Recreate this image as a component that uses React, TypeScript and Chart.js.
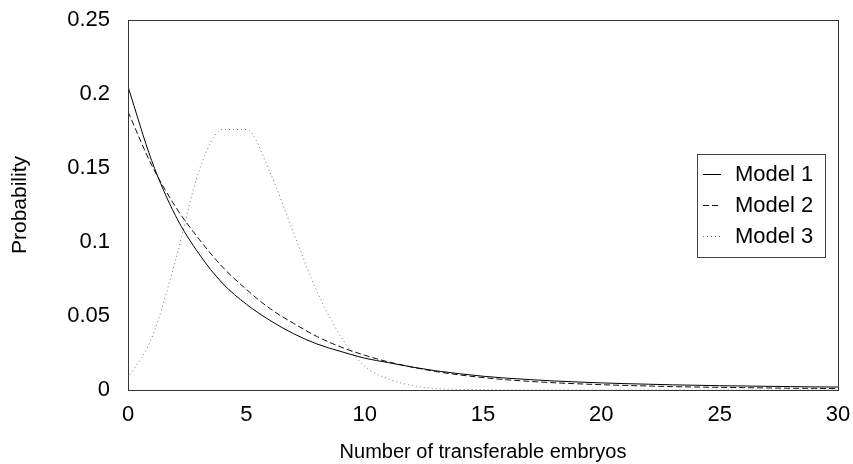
import React, { useEffect, useRef } from "react";
import { Chart, registerables } from "chart.js";

Chart.register(...registerables);

const xValues = [0, 1, 2, 3, 4, 5, 6, 7, 8, 9, 10, 11, 12, 13, 14, 15, 16, 17, 18, 19, 20, 21, 22, 23, 24, 25, 26, 27, 28, 29, 30];
const model1 = [0.205, 0.155, 0.118, 0.092, 0.072, 0.058, 0.047, 0.038, 0.031, 0.026, 0.0215, 0.0185, 0.0155, 0.013, 0.011, 0.0093, 0.008, 0.007, 0.0061, 0.0054, 0.0048, 0.0043, 0.0039, 0.0035, 0.0032, 0.0029, 0.0027, 0.0025, 0.0023, 0.0021, 0.002];
const model2 = [0.188, 0.152, 0.124, 0.102, 0.083, 0.068, 0.055, 0.045, 0.036, 0.029, 0.0235, 0.019, 0.0155, 0.0125, 0.0102, 0.0084, 0.0069, 0.0058, 0.0049, 0.0042, 0.0036, 0.0031, 0.0027, 0.0023, 0.002, 0.0018, 0.0016, 0.0014, 0.0012, 0.0011, 0.001];
const model3 = [0.008, 0.035, 0.087, 0.148, 0.176, 0.176, 0.147, 0.106, 0.066, 0.036, 0.016, 0.0075, 0.003, 0.001, 0.0004, 0.0002, 0.0001, 0, 0, 0, 0, 0, 0, 0, 0, 0, 0, 0, 0, 0, 0];
const seriesLabels = ["Model 1", "Model 2", "Model 3"];
const xTickLabels = ["0", "5", "10", "15", "20", "25", "30"];
const yTickLabels = ["0", "0.05", "0.1", "0.15", "0.2", "0.25"];
const xTitle = "Number of transferable embryos";
const yTitle = "Probability";

const FONT = "Liberation Sans, Arial, sans-serif";

const framePlugin = {
  id: "frameAndLegend",
  afterDatasetsDraw(chart: any) {
    const { ctx, chartArea } = chart;
    ctx.save();
    ctx.strokeStyle = "#333";
    ctx.lineWidth = 1;
    ctx.setLineDash([]);
    ctx.strokeRect(Math.round(chartArea.left) + 0.5, Math.round(chartArea.top) + 0.5, Math.round(chartArea.right - chartArea.left), Math.round(chartArea.bottom - chartArea.top));

    const bx = 697, by = 154, bw = 128, bh = 103;
    ctx.fillStyle = "#fff";
    ctx.fillRect(bx, by, bw, bh);
    ctx.strokeStyle = "#444";
    ctx.strokeRect(bx + 0.5, by + 0.5, bw, bh);
    const rows = [174, 205, 236];
    const ds = chart.data.datasets;
    ctx.font = `22px ${FONT}`;
    ctx.textBaseline = "middle";
    ctx.textAlign = "left";
    rows.forEach((ry: number, i: number) => {
      const d = ds[i];
      ctx.strokeStyle = d.borderColor;
      ctx.lineWidth = 1;
      ctx.setLineDash(d.borderDash || []);
      ctx.beginPath();
      ctx.moveTo(703, ry + 0.5);
      ctx.lineTo(721, ry + 0.5);
      ctx.stroke();
      ctx.setLineDash([]);
      ctx.fillStyle = "#000";
      ctx.fillText(d.label, 735, ry + 1);
    });
    ctx.restore();
  },
};

export default function App() {
  const ref = useRef<HTMLCanvasElement | null>(null);
  useEffect(() => {
    if (!ref.current) return;
    const mk = (arr: number[]) => xValues.map((x, i) => ({ x, y: arr[i] }));
    const chart = new Chart(ref.current, {
      type: "line",
      data: {
        datasets: [
          { label: seriesLabels[0], data: mk(model1), borderColor: "#000", borderWidth: 1, pointRadius: 0, cubicInterpolationMode: "monotone", fill: false },
          { label: seriesLabels[1], data: mk(model2), borderColor: "#111", borderWidth: 1, borderDash: [6, 3], pointRadius: 0, cubicInterpolationMode: "monotone", fill: false },
          { label: seriesLabels[2], data: mk(model3), borderColor: "#777", borderWidth: 1, borderDash: [1, 3], pointRadius: 0, cubicInterpolationMode: "monotone", fill: false },
        ],
      },
      options: {
        animation: false,
        responsive: true,
        maintainAspectRatio: false,
        layout: { padding: { top: 20, right: 15, left: 0, bottom: 0 } },
        plugins: { legend: { display: false }, tooltip: { enabled: false } },
        scales: {
          x: {
            type: "linear",
            min: 0,
            max: 30,
            grid: { display: true, drawOnChartArea: false, drawTicks: true, tickLength: 12, color: "rgba(0,0,0,0)" },
            border: { display: false },
            ticks: {
              stepSize: 5,
              padding: 0,
              color: "#000",
              font: { family: FONT, size: 22 },
              maxRotation: 0,
              callback: (v: any) => xTickLabels[Math.round(Number(v) / 5)] ?? "",
            },
            title: { display: true, text: xTitle, color: "#000", font: { family: FONT, size: 20 }, padding: { top: 6, bottom: 0 } },
            afterFit: (s: any) => { s.height = 74; },
          },
          y: {
            min: 0,
            max: 0.25,
            grid: { display: true, drawOnChartArea: false, drawTicks: true, tickLength: 18, color: "rgba(0,0,0,0)" },
            border: { display: false },
            ticks: {
              stepSize: 0.05,
              padding: 0,
              color: "#000",
              font: { family: FONT, size: 22 },
              callback: (v: any) => yTickLabels[Math.round(Number(v) / 0.05)] ?? "",
            },
            title: { display: true, text: yTitle, color: "#000", font: { family: FONT, size: 21 }, padding: { top: 8, bottom: 0 } },
            afterFit: (s: any) => { s.width = 128; },
          },
        },
      },
      plugins: [framePlugin],
    } as any);
    return () => chart.destroy();
  }, []);
  return (
    <div style={{ position: "fixed", left: 0, top: 0, width: 853, height: 464, background: "#fff" }}>
      <canvas ref={ref} />
    </div>
  );
}
